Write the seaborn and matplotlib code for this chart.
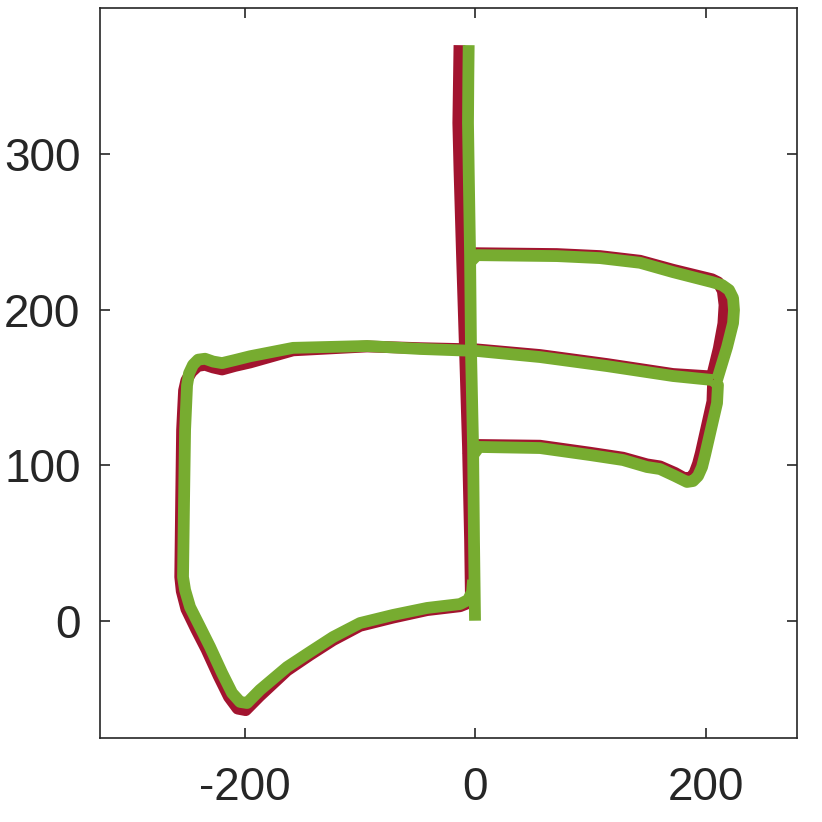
import pandas as pd
import matplotlib
matplotlib.use('Agg')
import matplotlib.pyplot as plt
import seaborn as sns

# ground truth trajectory (red), split into segments
gt_vert = [(-3.5, 10.7), (-4.3, 51.9), (-6.1, 111.7), (-8.7, 174.0), (-11.3, 235.0), (-13.5, 290.0),
           (-14.5, 320.0), (-13.9, 350.0), (-13.5, 370.0)]
gt_top = [(-11.3, 231.0), (-6.0, 236.3), (71.1, 235.7), (108.5, 234.4), (143.2, 231.4), (171.8, 225.6),
          (205.6, 219.5), (211.0, 217.5), (215.0, 212.0), (216.5, 203.0), (215.5, 191.0), (211.5, 175.0),
          (205.6, 157.0)]
gt_mid = [(205.6, 157.0), (171.8, 158.6), (114.5, 165.0), (56.4, 170.8), (1.7, 174.4), (-47.7, 175.2),
          (-93.7, 176.3), (-157.9, 173.8), (-195.2, 166.0), (-208.2, 163.8), (-219.5, 161.5), (-227.3, 162.8),
          (-234.3, 164.5), (-240.5, 163.8), (-246.0, 160.0), (-250.5, 154.5), (-252.5, 148.0),
          (-254.2, 122.6), (-255.0, 77.6), (-255.8, 28.1), (-254.5, 19.0), (-250.5, 7.5), (-242.0, -5.5),
          (-233.0, -18.5), (-222.5, -35.5), (-213.5, -49.0), (-206.0, -56.5), (-199.0, -57.5),
          (-187.0, -48.5), (-163.1, -32.0), (-143.2, -22.0), (-123.2, -12.5), (-99.8, -3.3), (-71.1, 2.0),
          (-41.6, 6.8), (-13.0, 9.3), (-5.5, 11.5)]
gt_low = [(-6.1, 106.0), (-2.0, 113.0), (56.4, 112.5), (99.8, 108.0), (128.4, 104.8), (149.2, 100.5),
          (160.5, 99.2), (173.5, 95.0), (182.0, 91.5), (187.0, 91.8), (190.5, 95.0), (193.5, 101.0),
          (196.0, 108.0), (206.0, 141.0), (206.5, 152.0), (205.6, 157.0)]

# estimated trajectory (green)
est_vert = [(0.0, 0.0), (-0.9, 51.9), (-1.7, 111.7), (-3.5, 174.0), (-4.3, 235.0), (-5.5, 290.0),
            (-6.1, 320.0), (-5.8, 350.0), (-5.5, 370.0)]
est_top = [(-4.3, 230.5), (1.7, 235.0), (71.1, 234.4), (108.5, 233.1), (143.2, 230.1), (171.8, 224.1),
           (205.6, 217.7), (214.3, 215.8), (220.4, 212.6), (223.9, 207.4), (224.7, 199.7), (223.9, 191.3),
           (218.7, 175.9), (210.0, 154.7)]
est_mid = [(206.5, 154.7), (171.8, 157.3), (114.5, 163.7), (56.4, 169.5), (1.7, 173.4), (-47.7, 174.7),
           (-93.7, 176.6), (-157.9, 175.4), (-195.2, 170.0), (-208.2, 167.6), (-219.5, 165.6), (-227.3, 166.6),
           (-234.3, 168.4), (-240.3, 167.8), (-244.7, 164.5), (-248.2, 159.0), (-249.9, 151.3),
           (-251.6, 122.6), (-252.5, 77.6), (-253.4, 28.1), (-251.6, 19.7), (-247.3, 8.8), (-238.6, -4.0),
           (-229.9, -16.9), (-219.5, -33.6), (-210.8, -46.5), (-203.9, -52.2), (-197.8, -52.9),
           (-186.6, -44.5), (-163.1, -29.8), (-143.2, -20.1), (-123.2, -10.5), (-99.8, -1.5), (-71.1, 3.7),
           (-41.6, 8.2), (-13.0, 10.7), (-6.1, 13.3), (-2.6, 18.4), (-1.7, 26.2)]
est_low = [(-1.7, 106.5), (3.5, 111.7), (56.4, 111.0), (99.8, 106.5), (128.4, 103.3), (149.2, 98.8),
           (160.5, 97.5), (173.5, 93.0), (183.9, 89.2), (189.2, 89.8), (193.5, 93.0), (197.0, 98.8),
           (199.6, 106.5), (210.0, 139.9), (210.8, 151.5), (206.5, 154.7)]

x_ticks = [-200, 0, 200]
y_ticks = [0, 100, 200, 300]


def to_frame(segments):
    rows = []
    for seg_id, seg in enumerate(segments):
        for order, (x, y) in enumerate(seg):
            rows.append({'x': x, 'y': y, 'segment': seg_id, 'order': order})
    return pd.DataFrame(rows)


gt_df = to_frame([gt_vert, gt_top, gt_mid, gt_low])
est_df = to_frame([est_vert, est_top, est_mid, est_low])

sns.set_style('ticks')
plt.rcParams['font.family'] = ['Liberation Sans', 'DejaVu Sans']
plt.rcParams['axes.unicode_minus'] = False

fig = plt.figure(figsize=(8.22, 8.22), dpi=100)
ax = fig.add_axes([0.1217, 0.1022, 0.8479, 0.8881])

line_kw = dict(linewidth=8.5, solid_capstyle='butt', solid_joinstyle='round')
sns.lineplot(data=gt_df, x='x', y='y', units='segment', estimator=None, sort=False,
             color='#A2142F', legend=False, ax=ax, **line_kw)
sns.lineplot(data=est_df, x='x', y='y', units='segment', estimator=None, sort=False,
             color='#77AC30', legend=False, ax=ax, **line_kw)

ax.set_xlim(-325.4, 279.4)
ax.set_ylim(-75.4, 393.9)
ax.set_xticks(x_ticks)
ax.set_yticks(y_ticks)
ax.set_xlabel('')
ax.set_ylabel('')
for s in ax.spines.values():
    s.set_visible(True)
    s.set_linewidth(1.2)
    s.set_color('#262626')
ax.tick_params(direction='in', length=7, width=1.2, colors='#262626',
               top=True, right=True, labelsize=33)
ax.tick_params(axis='x', pad=20)
ax.tick_params(axis='y', pad=14)

fig.savefig('out.png', dpi=100)
